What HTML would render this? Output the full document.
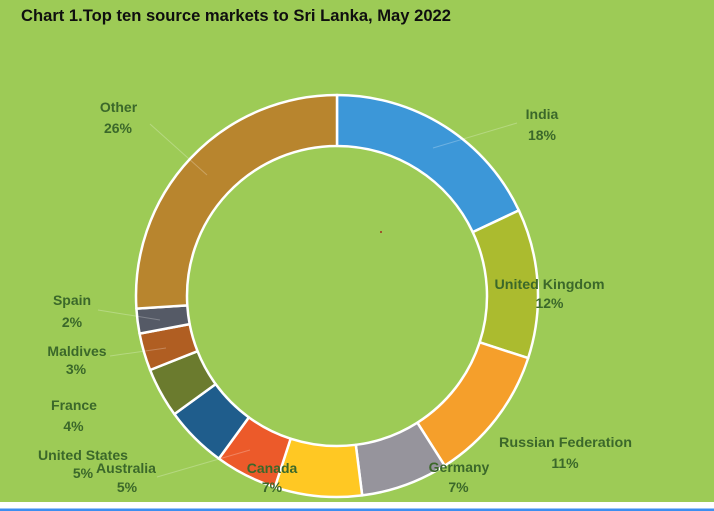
<!DOCTYPE html>
<html>
<head>
<meta charset="utf-8">
<style>
  html,body{margin:0;padding:0;background:#fff;}
  body{width:714px;height:511px;overflow:hidden;}
  svg{display:block;}
  .lb{font-family:"Liberation Sans",Arial,sans-serif;font-weight:bold;font-size:14px;fill:#3b682a;}
  .tt{font-family:"Liberation Sans",Arial,sans-serif;font-weight:bold;font-size:16.5px;fill:#0f0f0f;}
</style>
</head>
<body>
<svg width="714" height="511" viewBox="0 0 714 511" xmlns="http://www.w3.org/2000/svg">
  <!-- background -->
  <rect x="0" y="0" width="714" height="511" fill="#ffffff"/>
  <rect x="0" y="0" width="714" height="502" fill="#9dcb56"/>
  <rect x="0" y="508.5" width="714" height="2.5" fill="#3d8ef0"/>

  <!-- title -->
  <text class="tt" x="21" y="21" textLength="430" lengthAdjust="spacingAndGlyphs">Chart 1.Top ten source markets to Sri Lanka, May 2022</text>

  <!-- donut segments -->
  <g stroke="#ffffff" stroke-width="2.5" stroke-linejoin="round">
    <path d="M337,95 A201,201 0 0 1 518.87,210.42 L472.72,232.13 A150,150 0 0 0 337,146 Z" fill="#3c97d8"/>
    <path d="M518.87,210.42 A201,201 0 0 1 528.16,358.11 L479.66,342.35 A150,150 0 0 0 472.72,232.13 Z" fill="#abbb2f"/>
    <path d="M528.16,358.11 A201,201 0 0 1 444.70,465.71 L417.37,422.65 A150,150 0 0 0 479.66,342.35 Z" fill="#f59f2b"/>
    <path d="M444.70,465.71 A201,201 0 0 1 362.19,495.41 L355.80,444.82 A150,150 0 0 0 417.37,422.65 Z" fill="#96949c"/>
    <path d="M362.19,495.41 A201,201 0 0 1 274.89,487.16 L290.65,438.66 A150,150 0 0 0 355.80,444.82 Z" fill="#ffc823"/>
    <path d="M274.89,487.16 A201,201 0 0 1 218.85,458.61 L248.83,417.35 A150,150 0 0 0 290.65,438.66 Z" fill="#ec5a2a"/>
    <path d="M218.85,458.61 A201,201 0 0 1 174.39,414.15 L215.65,384.17 A150,150 0 0 0 248.83,417.35 Z" fill="#1f5d8c"/>
    <path d="M174.39,414.15 A201,201 0 0 1 150.11,369.99 L197.53,351.22 A150,150 0 0 0 215.65,384.17 Z" fill="#6b7b2e"/>
    <path d="M150.11,369.99 A201,201 0 0 1 139.56,333.66 L189.66,324.11 A150,150 0 0 0 197.53,351.22 Z" fill="#b05e22"/>
    <path d="M139.56,333.66 A201,201 0 0 1 136.40,308.62 L187.30,305.42 A150,150 0 0 0 189.66,324.11 Z" fill="#555a66"/>
    <path d="M136.40,308.62 A201,201 0 0 1 337,95 L337,146 A150,150 0 0 0 187.30,305.42 Z" fill="#b8852e"/>
  </g>

  <!-- faint leader lines -->
  <g stroke="#ffffff" stroke-width="1" fill="none" opacity="0.25">
    <line x1="433" y1="148" x2="517" y2="123"/>
    <line x1="150" y1="124" x2="207" y2="175"/>
    <line x1="98" y1="310" x2="160" y2="320"/>
    <line x1="110" y1="356" x2="166" y2="348"/>
    <line x1="157" y1="477" x2="250" y2="450"/>
  </g>

  <!-- center dot -->
  <circle cx="381" cy="232" r="1" fill="#a0321e"/>

  <!-- labels -->
  <g class="lb" text-anchor="middle">
    <text x="118.5" y="112">Other</text>
    <text x="118" y="133">26%</text>

    <text x="542" y="119">India</text>
    <text x="542" y="140">18%</text>

    <text x="549.5" y="289" textLength="110" lengthAdjust="spacingAndGlyphs">United Kingdom</text>
    <text x="549.5" y="308">12%</text>

    <text x="565.5" y="447" textLength="133" lengthAdjust="spacingAndGlyphs">Russian Federation</text>
    <text x="565" y="468">11%</text>

    <text x="459" y="472">Germany</text>
    <text x="458.5" y="492">7%</text>

    <text x="272" y="473">Canada</text>
    <text x="272" y="492">7%</text>

    <text x="126" y="473">Australia</text>
    <text x="127" y="492">5%</text>

    <text x="83" y="460" textLength="90" lengthAdjust="spacingAndGlyphs">United States</text>
    <text x="83" y="478">5%</text>

    <text x="74" y="410">France</text>
    <text x="73.5" y="431">4%</text>

    <text x="77" y="356">Maldives</text>
    <text x="76" y="374">3%</text>

    <text x="72" y="305">Spain</text>
    <text x="72" y="327">2%</text>
  </g>
</svg>
</body>
</html>
